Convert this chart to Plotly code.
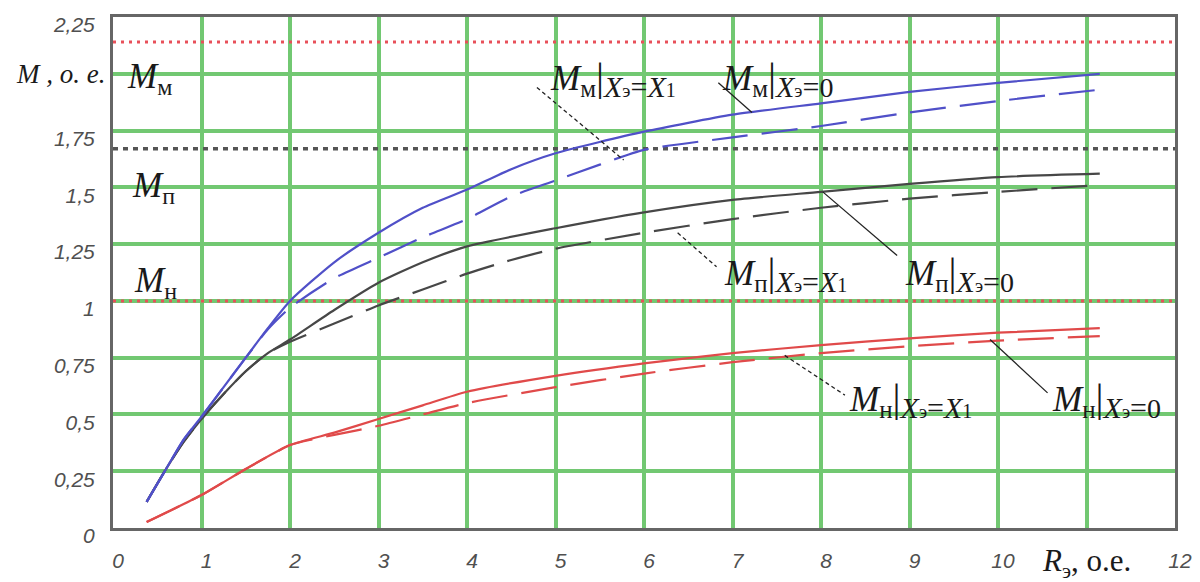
import plotly.graph_objects as go

# ---- data ----
x_mm0 = [0.38, 0.6, 0.8, 1.0, 1.25, 1.5, 1.75, 2.0, 2.5, 3.0, 3.5, 4.0, 4.5, 5.0, 6.0, 7.0, 8.0, 9.0, 10.0, 11.15]
y_mm0 = [0.115, 0.26, 0.39, 0.49, 0.62, 0.75, 0.88, 1.0, 1.17, 1.30, 1.41, 1.49, 1.58, 1.65, 1.745, 1.82, 1.87, 1.92, 1.96, 2.0]

x_mm1 = [0.38, 0.6, 0.8, 1.0, 1.25, 1.5, 1.75, 2.0, 2.5, 3.0, 3.5, 4.0, 4.5, 5.0, 5.5, 6.0, 7.0, 8.0, 9.0, 10.0, 11.15]
y_mm1 = [0.115, 0.26, 0.39, 0.49, 0.62, 0.75, 0.875, 0.97, 1.10, 1.19, 1.28, 1.36, 1.46, 1.53, 1.60, 1.665, 1.72, 1.77, 1.83, 1.88, 1.93]

x_mp0 = [0.38, 0.6, 0.8, 1.0, 1.25, 1.5, 1.75, 2.0, 2.5, 3.0, 3.5, 4.0, 5.0, 6.0, 7.0, 8.0, 9.0, 10.0, 11.15]
y_mp0 = [0.115, 0.26, 0.38, 0.48, 0.59, 0.69, 0.77, 0.83, 0.96, 1.08, 1.17, 1.24, 1.32, 1.39, 1.445, 1.48, 1.515, 1.545, 1.56]

x_mp1 = [0.38, 0.6, 0.8, 1.0, 1.25, 1.5, 1.75, 2.0, 2.5, 3.0, 3.5, 4.0, 4.5, 5.0, 6.0, 7.0, 8.0, 9.0, 10.0, 11.15]
y_mp1 = [0.115, 0.26, 0.38, 0.48, 0.59, 0.69, 0.77, 0.82, 0.90, 0.98, 1.05, 1.12, 1.18, 1.23, 1.30, 1.36, 1.41, 1.45, 1.48, 1.51]

x_mn0 = [0.38, 1.0, 1.5, 2.0, 2.5, 3.0, 3.5, 4.0, 5.0, 6.0, 7.0, 8.0, 9.0, 10.0, 11.15]
y_mn0 = [0.026, 0.145, 0.26, 0.365, 0.42, 0.48, 0.54, 0.60, 0.67, 0.725, 0.77, 0.805, 0.835, 0.86, 0.88]

x_mn1 = [0.38, 1.0, 1.5, 2.0, 2.25, 2.5, 3.0, 3.5, 4.0, 5.0, 6.0, 7.0, 8.0, 9.0, 10.0, 11.15]
y_mn1 = [0.026, 0.145, 0.26, 0.365, 0.39, 0.41, 0.45, 0.50, 0.55, 0.62, 0.68, 0.73, 0.77, 0.80, 0.825, 0.845]

# reference levels
level_mm = 2.14
level_mp = 1.67
level_mn = 1.0

x_tickvals = list(range(0, 13))
x_ticktext = ["0", "1", "2", "3", "4", "5", "6", "7", "8", "9", "10", "", "12"]
y_tickvals = [0, 0.25, 0.5, 0.75, 1.0, 1.25, 1.5, 1.75, 2.0, 2.25]
y_ticktext = ["0", "0,25", "0,5", "0,75", "1", "1,25", "1,5", "1,75", "", "2,25"]

BLUE = "#5050c8"
BLACK = "#474747"
RED = "#e04a4a"
GREEN = "#72c872"
SERIF = "Liberation Serif"

fig = go.Figure()

def add_level(y, color, dash, width):
    fig.add_trace(go.Scatter(x=[0, 12], y=[y, y], mode="lines",
                             line=dict(color=color, dash=dash, width=width),
                             hoverinfo="skip", showlegend=False))

add_level(level_mn, "#e8505a", "3px,5px", 3)
add_level(level_mp, "#555555", "5px,5px", 3.5)
add_level(level_mm, "#e8505a", "3px,5px", 3)

def add_curve(x, y, color, dashed):
    fig.add_trace(go.Scatter(x=x, y=y, mode="lines",
                             line=dict(color=color, width=2.2, shape="spline", smoothing=0.6,
                                       dash="36px,14px" if dashed else "solid"),
                             showlegend=False))

add_curve(x_mn1, y_mn1, RED, True)
add_curve(x_mn0, y_mn0, RED, False)
add_curve(x_mp1, y_mp1, BLACK, True)
add_curve(x_mp0, y_mp0, BLACK, False)
add_curve(x_mm1, y_mm1, BLUE, True)
add_curve(x_mm0, y_mm0, BLUE, False)

# leader lines
leaders = [
    (4.79, 1.94, 5.77, 1.62, "dash"),
    (6.84, 1.96, 7.22, 1.83, "solid"),
    (6.38, 1.30, 6.82, 1.15, "dash"),
    (8.02, 1.48, 8.86, 1.20, "solid"),
    (7.59, 0.76, 8.27, 0.585, "dash"),
    (9.91, 0.83, 10.56, 0.595, "solid"),
]
for x0, y0, x1, y1, d in leaders:
    fig.add_shape(type="line", x0=x0, y0=y0, x1=x1, y1=y1, xref="x", yref="y",
                  line=dict(color="#222222", width=1.3, dash="4px,3px" if d == "dash" else "solid"))

def sub(txt, size):
    return "<sub><span style='font-size:%dpx'>%s</span></sub>" % (size, txt)

def curve_label(s, cond_is_x1):
    t = ("<i>M</i>" + sub(s, 25)
         + "<span style='font-size:40px'>|</span>"
         + sub("<i>X</i>", 30) + sub("э", 19) + sub("=", 30))
    if cond_is_x1:
        t += sub("<i>X</i>", 30) + sub("1", 20)
    else:
        t += sub("0", 28)
    return t

labels = [
    (4.92, 1.98, curve_label("м", True)),
    (6.86, 1.98, curve_label("м", False)),
    (6.88, 1.12, curve_label("п", True)),
    (8.93, 1.12, curve_label("п", False)),
    (8.29, 0.565, curve_label("н", True)),
    (10.59, 0.565, curve_label("н", False)),
]
for x, y, t in labels:
    fig.add_annotation(x=x, y=y, xref="x", yref="y", text=t, showarrow=False,
                       xanchor="left", yanchor="middle",
                       font=dict(family=SERIF, size=35, color="#1a1a1a"))

for x, y, s in [(0.135, 1.98, "м"), (0.19, 1.50, "п"), (0.21, 1.08, "н")]:
    fig.add_annotation(x=x, y=y, xref="x", yref="y",
                       text="<i>M</i>" + sub(s, 24),
                       showarrow=False, xanchor="left", yanchor="middle",
                       font=dict(family=SERIF, size=35, color="#1a1a1a"))

fig.add_annotation(x=-0.093, y=2.0, xref="paper", yref="y", text="<i>M , o. e.</i>",
                   showarrow=False, xanchor="left", yanchor="middle",
                   font=dict(family=SERIF, size=27, color="#1a1a1a"))
fig.add_annotation(x=10.47, y=-0.068, xref="x", yref="paper",
                   text="<i>R</i>" + sub("э", 21) + ", о.е.",
                   showarrow=False, xanchor="left", yanchor="middle",
                   font=dict(family=SERIF, size=31, color="#1a1a1a"))

tickfont = dict(family="Liberation Sans", size=21, color="#505050", style="italic")

fig.update_layout(
    width=1200, height=582,
    margin=dict(l=105, r=33, t=9, b=62),
    paper_bgcolor="white", plot_bgcolor="white",
    xaxis=dict(range=[0, 12], tickvals=x_tickvals, ticktext=x_ticktext, automargin=False,
               ticklabeloverflow="allow", ticklabelshift=5,
               showgrid=True, gridcolor=GREEN, gridwidth=3.5, zeroline=False,
               showline=True, linecolor="#666666", linewidth=3, mirror=True,
               ticks="outside", ticklen=12, tickcolor="rgba(0,0,0,0)",
               tickfont=tickfont),
    yaxis=dict(range=[0, 2.25], tickvals=y_tickvals, ticktext=y_ticktext, automargin=False,
               ticklabeloverflow="allow", ticklabelshift=8,
               showgrid=True, gridcolor=GREEN, gridwidth=3.5, zeroline=False,
               showline=True, linecolor="#666666", linewidth=3, mirror=True,
               ticks="outside", ticklen=11, tickcolor="rgba(0,0,0,0)",
               tickfont=tickfont),
)

fig.write_html("out.html")
